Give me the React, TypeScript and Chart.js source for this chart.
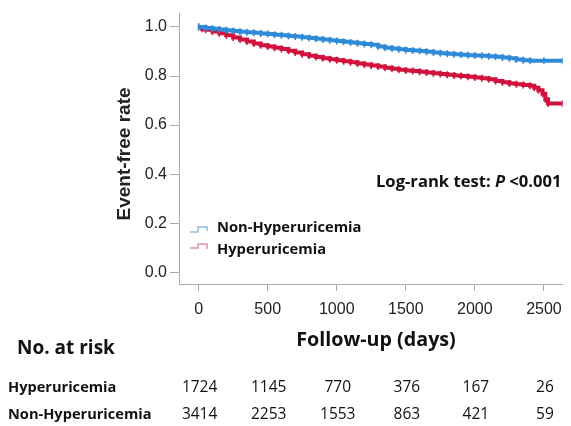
import React, { useEffect, useRef } from "react";
import { Chart, registerables } from "chart.js";

Chart.register(...registerables);

const xTicks = [0, 500, 1000, 1500, 2000, 2500];
const yTicks = [0, 0.2, 0.4, 0.6, 0.8, 1.0];

const nonHyperTime = [0, 50, 100, 150, 200, 250, 300, 350, 400, 450, 500, 550, 600, 650, 700, 750, 800, 850, 900, 950, 1000, 1050, 1100, 1150, 1200, 1250, 1300, 1350, 1400, 1450, 1500, 1550, 1600, 1650, 1700, 1750, 1800, 1850, 1900, 1950, 2000, 2050, 2100, 2150, 2200, 2250, 2300, 2350, 2400, 2500, 2635];
const nonHyperSurv = [1.0, 0.996, 0.993, 0.990, 0.987, 0.984, 0.981, 0.978, 0.976, 0.973, 0.971, 0.968, 0.966, 0.963, 0.961, 0.958, 0.955, 0.952, 0.949, 0.946, 0.943, 0.940, 0.937, 0.934, 0.931, 0.928, 0.920, 0.915, 0.912, 0.909, 0.906, 0.904, 0.902, 0.899, 0.896, 0.893, 0.891, 0.889, 0.887, 0.885, 0.884, 0.883, 0.881, 0.879, 0.876, 0.872, 0.867, 0.864, 0.862, 0.862, 0.861];

const hyperTime = [0, 25, 50, 100, 150, 200, 250, 300, 350, 400, 450, 500, 550, 600, 650, 700, 750, 800, 850, 900, 950, 1000, 1050, 1100, 1150, 1200, 1250, 1300, 1350, 1400, 1450, 1500, 1550, 1600, 1650, 1700, 1750, 1800, 1850, 1900, 1950, 2000, 2050, 2100, 2150, 2200, 2250, 2300, 2350, 2400, 2430, 2460, 2490, 2510, 2530, 2635];
const hyperSurv = [1.0, 0.993, 0.989, 0.982, 0.974, 0.966, 0.957, 0.949, 0.941, 0.933, 0.926, 0.920, 0.915, 0.910, 0.903, 0.896, 0.889, 0.883, 0.878, 0.873, 0.868, 0.864, 0.860, 0.856, 0.851, 0.847, 0.843, 0.839, 0.834, 0.830, 0.826, 0.823, 0.820, 0.817, 0.814, 0.811, 0.808, 0.805, 0.802, 0.800, 0.797, 0.794, 0.791, 0.787, 0.780, 0.775, 0.770, 0.766, 0.763, 0.760, 0.752, 0.742, 0.728, 0.705, 0.688, 0.687];

const riskGroups = ["Hyperuricemia", "Non-Hyperuricemia"];
const riskHyper = [1724, 1145, 770, 376, 167, 26];
const riskNonHyper = [3414, 2253, 1553, 863, 421, 59];

const BLUE = "#2f8ad8";
const RED = "#d0123c";
const SANS = "'Liberation Sans', Arial, sans-serif";
const OPEN = "'Open Sans', sans-serif";

export default function App() {
  const ref = useRef<HTMLCanvasElement | null>(null);
  useEffect(() => {
    const canvas = ref.current!;
    const overlay = {
      id: "overlay",
      afterDraw(chart: any) {
        const ctx = chart.ctx as CanvasRenderingContext2D;
        const xs = chart.scales.x;
        ctx.save();
        ctx.fillStyle = "#222";
        ctx.font = `bold 19px ${SANS}`;
        ctx.textAlign = "center";
        ctx.textBaseline = "middle";
        ctx.save();
        ctx.translate(125, 154);
        ctx.rotate(-Math.PI / 2);
        ctx.fillText("Event-free rate", 0, 0);
        ctx.restore();
        // log-rank
        ctx.textAlign = "left";
        ctx.fillStyle = "#111";
        const f1 = `bold 16.6px ${OPEN}`;
        const f2 = `italic bold 16.6px ${OPEN}`;
        let x0 = 376;
        const ly = 182;
        ctx.font = f1;
        const a = "Log-rank test: ";
        ctx.fillText(a, x0, ly);
        x0 += ctx.measureText(a).width;
        ctx.font = f2;
        ctx.fillText("P", x0, ly);
        x0 += ctx.measureText("P ").width;
        ctx.font = f1;
        ctx.fillText("<0.001", x0, ly);
        // legend
        const leg = [
          { label: "Non-Hyperuricemia", color: "#8fc0e0", y: 228, up: false },
          { label: "Hyperuricemia", color: "#e090a8", y: 250, up: true },
        ];
        leg.forEach((l) => {
          ctx.strokeStyle = l.color;
          ctx.lineWidth = 1.5;
          ctx.beginPath();
          if (!l.up) {
            ctx.moveTo(190, l.y + 4);
            ctx.lineTo(198, l.y + 4);
            ctx.lineTo(198, l.y - 1);
            ctx.lineTo(207, l.y - 1);
            ctx.lineTo(207, l.y + 3);
          } else {
            ctx.moveTo(190, l.y - 2);
            ctx.lineTo(198, l.y - 2);
            ctx.lineTo(198, l.y - 6);
            ctx.lineTo(207, l.y - 6);
            ctx.lineTo(207, l.y - 1);
          }
          ctx.stroke();
          ctx.fillStyle = "#111";
          ctx.font = `bold 14.7px ${OPEN}`;
          ctx.fillText(l.label, 217, l.y);
        });
        // titles
        ctx.textAlign = "center";
        ctx.font = `bold 19.7px ${OPEN}`;
        ctx.fillText("Follow-up (days)", 376, 340);
        ctx.textAlign = "left";
        ctx.font = `bold 19px ${OPEN}`;
        ctx.fillText("No. at risk", 17, 349);
        // risk table
        const rows = [riskHyper, riskNonHyper];
        const rowY = [388, 415];
        rows.forEach((vals, i) => {
          ctx.textAlign = "left";
          ctx.font = `bold 14.6px ${OPEN}`;
          ctx.fillStyle = "#111";
          ctx.fillText(riskGroups[i], 8, rowY[i]);
          ctx.textAlign = "center";
          ctx.font = `15.5px ${OPEN}`;
          vals.forEach((v, j) => {
            ctx.fillText(String(v), xs.getPixelForValue(xTicks[j]) + 1, rowY[i]);
          });
        });
        ctx.restore();
      },
    };
    const mk = (t: number[], s: number[]) => t.map((v, i) => ({ x: v, y: s[i] }));
    const ds = (label: string, t: number[], s: number[], c: string) => ({
      label,
      data: mk(t, s),
      borderColor: c,
      backgroundColor: c,
      borderWidth: 4,
      stepped: "before" as const,
      pointStyle: "line" as const,
      rotation: 90,
      pointRadius: 3.5,
      pointBorderWidth: 1.5,
    });
    const chart = new Chart(canvas, {
      type: "line",
      data: {
        datasets: [
          ds("Non-Hyperuricemia", nonHyperTime, nonHyperSurv, BLUE),
          ds("Hyperuricemia", hyperTime, hyperSurv, RED),
        ],
      },
      options: {
        animation: false,
        responsive: false,
        layout: { padding: { top: 13, right: 0, left: 0, bottom: 0 } },
        plugins: { legend: { display: false }, tooltip: { enabled: false } },
        scales: {
          x: {
            type: "linear",
            min: -142,
            max: 2635,
            afterBuildTicks: (s: any) => {
              s.ticks = xTicks.map((v) => ({ value: v }));
            },
            afterFit: (s: any) => {
              s.height = 142;
            },
            grid: { drawOnChartArea: false, drawTicks: true, tickLength: 7, color: "#aaa" },
            border: { display: true, color: "#aaa", width: 1 },
            ticks: {
              color: "#222",
              font: { size: 16, family: SANS },
              padding: 9,
              maxRotation: 0,
              callback: (v: any) => String(v),
            },
          },
          y: {
            type: "linear",
            min: -0.048,
            max: 1.057,
            afterBuildTicks: (s: any) => {
              s.ticks = yTicks.map((v) => ({ value: v }));
            },
            afterFit: (s: any) => {
              s.width = 179;
            },
            grid: { drawOnChartArea: false, drawTicks: true, tickLength: 9, color: "#aaa" },
            border: { display: true, color: "#aaa", width: 1 },
            ticks: {
              color: "#222",
              font: { size: 16, family: SANS },
              padding: 3,
              callback: (v: any) => Number(v).toFixed(1),
            },
          },
        },
      },
      plugins: [overlay],
    });
    return () => chart.destroy();
  }, []);
  return (
    <div style={{ position: "fixed", left: 0, top: 0, width: 571, height: 426, background: "#fff" }}>
      <canvas ref={ref} width={571} height={426} style={{ display: "block" }} />
    </div>
  );
}
